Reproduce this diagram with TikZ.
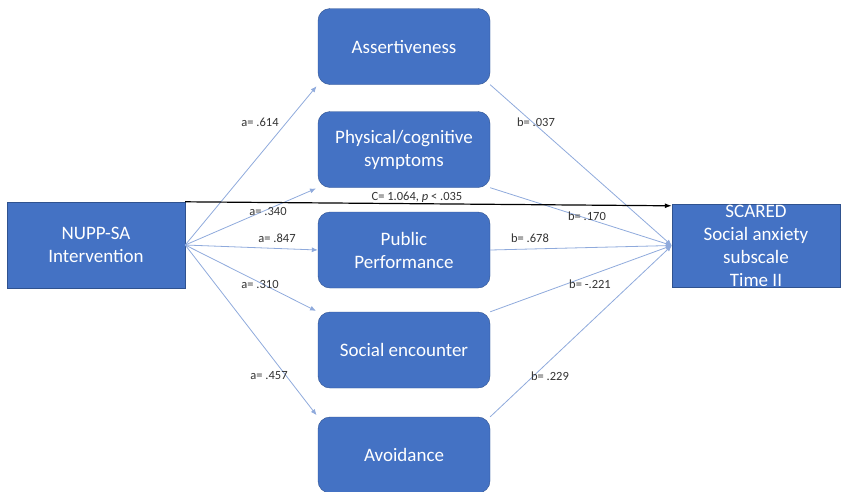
\documentclass[tikz,border=0pt]{standalone}
\usepackage{fontspec}
\setmainfont{Carlito}
\usetikzlibrary{arrows.meta,positioning,calc}
\definecolor{dobkek}{HTML}{4472C4}
\definecolor{dobszel}{HTML}{2F528F}
\definecolor{vonkek}{HTML}{8FAADC}
\tikzset{
  med/.style={draw=dobszel,fill=dobkek,rounded corners=12pt,minimum width=172pt,
    minimum height=76pt,inner sep=0pt,align=center,text=white,
    font=\fontsize{19}{23}\selectfont},
  kulso/.style={draw=dobszel,fill=dobkek,inner sep=0pt},
  szoveg/.style={align=center,text=white,font=\fontsize{19}{23}\selectfont},
  ut/.style={draw=vonkek,line width=0.8pt,-{Latex[length=6pt,width=5pt]}},
  fout/.style={draw=black,line width=1.2pt,-{Latex[length=7pt,width=5pt]}},
  coef/.style={text=black!80,font=\fontsize{12.5}{14}\selectfont},
}
\begin{document}
\begin{tikzpicture}[x=1pt,y=-1pt]
  \useasboundingbox (0,0) rectangle (841,491);
  % kulso dobozok
  \node[kulso,minimum width=178pt,minimum height=86pt] (nupp) at (96,245) {};
  \node[szoveg] (nupptxt) at (nupp.center) {NUPP-SA\\Intervention};
  \node[kulso,minimum width=168pt,minimum height=83pt] (scared) at (756,245.5) {};
  \node[szoveg] (scaredtxt) at (scared.center) {SCARED\\Social anxiety\\subscale\\Time II};
  % mediatorok
  \node[med] (assert) at (404,46.5) {Assertiveness};
  \node[med] (phys) at (404,149.5) {Physical/cognitive\\symptoms};
  \node[med] (pub) at (404,250) {Public\\Performance};
  \node[med] (soc) at (404,350) {Social encounter};
  \node[med] (avoid) at (404,455) {Avoidance};
  % a utak
  \draw[ut,shorten >=2pt] (nupp.east) -- (assert.south west);
  \draw[ut,shorten >=2pt] (nupp.east) -- (phys.south west);
  \draw[ut] (nupp.east) -- (pub.west);
  \draw[ut,shorten >=2pt] (nupp.east) -- (soc.north west);
  \draw[ut,shorten >=2pt] (nupp.east) -- (avoid.north west);
  % b utak
  \draw[ut] (assert.south east) -- (scared.west);
  \draw[ut] (phys.south east) -- (scared.west);
  \draw[ut] (pub.east) -- (scared.west);
  \draw[ut] (soc.north east) -- (scared.west);
  \draw[ut] (avoid.north east) -- (scared.west);
  % c ut
  \coordinate (cveg) at ($(scared.north west)+(0,2)$);
  \draw[fout] (nupp.north east) -- (cveg);
  \node[coef] (ccoef) at (417,197) {C= 1.064, \textit{p} < .035};
  % egyutthatok
  \node[coef] (a1) at (260,122) {a= .614};
  \node[coef] (a2) at (268,211) {a= .340};
  \node[coef] (a3) at (277,238) {a= .847};
  \node[coef] (a4) at (260,284) {a= .310};
  \node[coef] (a5) at (269,376) {a= .457};
  \node[coef] (b1) at (536,122) {b= .037};
  \node[coef] (b2) at (587,216) {b= .170};
  \node[coef] (b3) at (530,238) {b= .678};
  \node[coef] (b4) at (590,284) {b= -.221};
  \node[coef] (b5) at (550,376) {b= .229};
\end{tikzpicture}
\end{document}
